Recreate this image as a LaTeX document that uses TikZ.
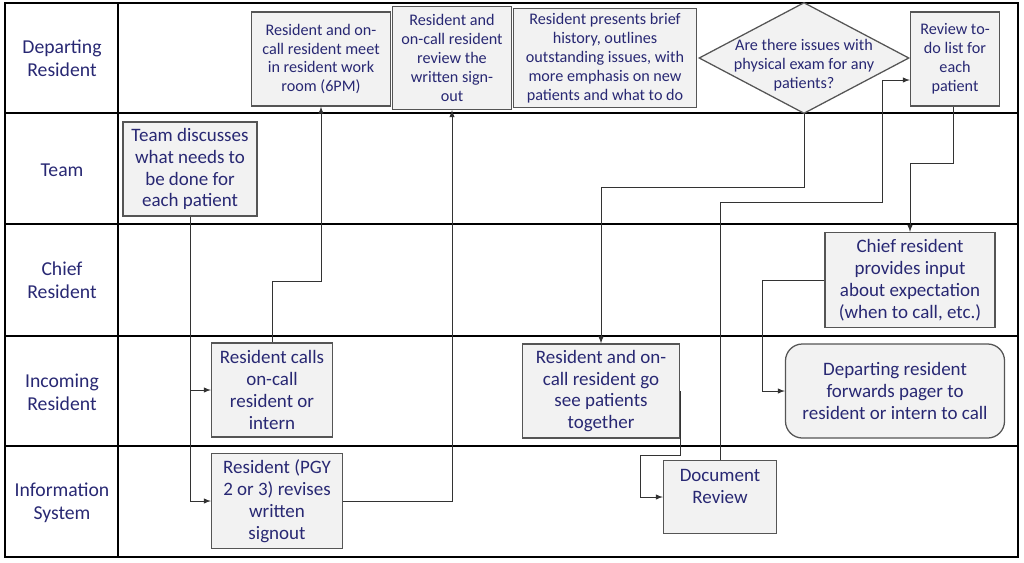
\documentclass[tikz,border=0pt]{standalone}
\usepackage{fontspec}
\setmainfont{Carlito}
\usepackage{xcolor}
\usepackage{tikz}
\usetikzlibrary{shapes.geometric}
\usetikzlibrary{arrows}
\usetikzlibrary{shapes}

\definecolor{lanetext}{RGB}{40,40,115}
\definecolor{boxfill}{RGB}{242,242,242}
\definecolor{boxline}{RGB}{85,85,85}

\tikzset{
    lane/.style = {font=\fontsize{14}{16.4}\selectfont, text=lanetext, align=center},
    task/.style = {draw=boxline, fill=boxfill, line width=0.9pt, inner sep=1pt,
        text=lanetext, align=center, font=\fontsize{13.5}{15.6}\selectfont},
    small/.style = {font=\fontsize{11.5}{13.5}\selectfont},
    decision/.style = {draw=boxline, fill=boxfill, line width=0.9pt, diamond,
        inner sep=0pt, minimum width=5.25cm, minimum height=2.775cm},
    flow/.style = {-latex, line width=0.7pt, black!80},
}

\begin{document}
\begin{tikzpicture}[x=0.025cm, y=-0.025cm]
        \useasboundingbox (0, 0) rectangle (1024, 562);

        % swim lanes
        \draw[line width=1pt] (5, 3) rectangle (1018, 557);
        \draw[line width=1pt] (118, 3) -- (118, 557);
        \foreach \y in {113, 224, 336, 446}
            \draw[line width=1pt] (5, \y) -- (1018, \y);

        \node[lane] (departing) at (62, 58) {Departing\\Resident};
        \node[lane] (team) at (62, 170) {Team};
        \node[lane] (chiefres) at (62, 280) {Chief\\Resident};
        \node[lane] (incoming) at (62, 392) {Incoming\\Resident};
        \node[lane] (infosys) at (62, 503) {Information\\System};

        % steps
        \node[task, minimum width=3.35cm, minimum height=2.35cm] (discuss) at (190, 169)
            {Team discusses\\what needs to\\be done for\\each patient};
        \node[task, small, minimum width=3.475cm, minimum height=2.35cm] (meet) at (321, 59)
            {Resident and on-\\call resident meet\\in resident work\\room (6PM)};
        \node[task, small, minimum width=2.975cm, minimum height=2.575cm] (review) at (452, 58)
            {Resident and\\on-call resident\\review the\\written sign-\\out};
        \node[task, small, minimum width=4.575cm, minimum height=2.475cm] (brief) at (605, 58)
            {Resident presents brief\\history, outlines\\outstanding issues, with\\more emphasis on new\\patients and what to do};
        \node[decision] (issues) at (804, 58) {};
        \node[lane, small] at (804, 65) {Are there issues with\\physical exam for any\\patients?};
        \node[task, small, minimum width=2.225cm, minimum height=2.35cm] (todo) at (955, 59)
            {Review to-\\do list for\\each\\patient};
        \node[task, minimum width=4.25cm, minimum height=2.375cm] (chief) at (910, 280)
            {Chief resident\\provides input\\about expectation\\(when to call, etc.)};
        \node[task, rounded corners=12pt, minimum width=5.475cm, minimum height=2.35cm] (pager) at (895, 391)
            {Departing resident\\forwards pager to\\resident or intern to call};
        \node[task, minimum width=3.925cm, minimum height=2.35cm] (see) at (601, 391)
            {Resident and on-\\call resident go\\see patients\\together};
        \node[task, minimum width=2.825cm, minimum height=1.825cm] (docrev) at (720, 497)
            {Document\\Review\\\mbox{}};
        \node[task, minimum width=3.025cm, minimum height=2.35cm] (calls) at (272, 390)
            {Resident calls\\on-call\\resident or\\intern};
        \node[task, minimum width=3.275cm, minimum height=2.375cm] (pgy) at (277, 501)
            {Resident (PGY\\2 or 3) revises\\written\\signout};

        % bends
        \coordinate (b1) at (321, 281);
        \coordinate (b2) at (601, 187);
        \coordinate (b3) at (882, 202);
        \coordinate (b4) at (910, 163);
        \coordinate (b5) at (762, 391);
        \coordinate (b6) at (640, 497);

        \draw[flow] (discuss.south) |- (calls.west);
        \draw[flow] (discuss.south) |- (pgy.west);
        \draw[flow] (calls.north) |- (b1) -- (meet.south);
        \draw[flow] (pgy.east) -| (review.south);
        \draw[flow] (issues.south) |- (b2) -- (see.north);
        \draw[flow] (docrev.north) |- (b3) |- ([yshift=-0.525cm]todo.west);
        \draw[flow] ([xshift=-0.05cm]todo.south) |- (b4) -- (chief.north);
        \draw[flow] (chief.west) -| (b5) -- (pager.west);
        \draw[flow] (see.east) -- ++(0, 64) -| (b6) -- (docrev.west);
    \end{tikzpicture}
\end{document}
